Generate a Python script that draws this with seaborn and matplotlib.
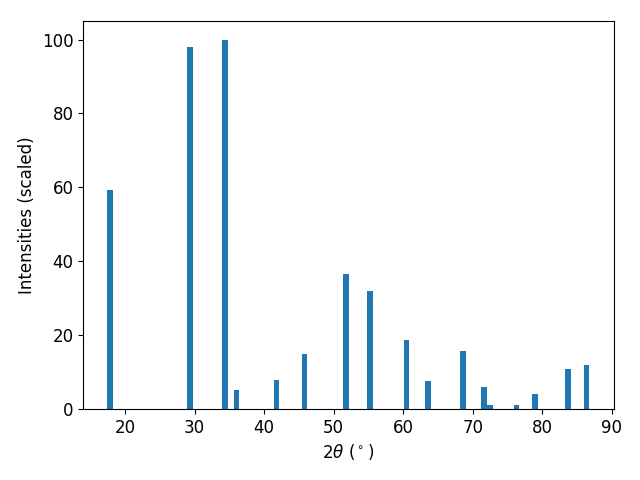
import numpy as np
import matplotlib
matplotlib.use("Agg")
import matplotlib.pyplot as plt
import seaborn as sns

# peak positions (2theta, deg) and scaled intensities
two_theta = [17.8, 29.3, 34.4, 36.0, 41.8, 45.8, 51.8, 55.2, 60.5,
             63.6, 68.6, 71.6, 72.5, 76.3, 79.0, 83.7, 86.4]
intensity = [59.3, 98.1, 100.0, 5.0, 7.9, 15.0, 36.6, 32.0, 18.7,
             7.6, 15.7, 6.0, 1.1, 1.1, 4.1, 10.8, 11.9]

plt.rcParams['font.size'] = 12

fig, ax = plt.subplots(figsize=(6.4, 4.8), dpi=100)

# native_scale scales width by the smallest gap between peaks -> want 0.8 deg
min_gap = np.diff(np.sort(two_theta)).min()
sns.barplot(x=two_theta, y=intensity, native_scale=True, width=0.8 / min_gap,
            color='#1f77b4', saturation=1, linewidth=0, ax=ax)

ax.set_xlim(13.96, 90.3)
ax.set_ylim(0, 105)
ax.set_xlabel(r'$2\theta$ ($^\circ$)')
ax.set_ylabel('Intensities (scaled)')
ax.set_xticks([20, 30, 40, 50, 60, 70, 80, 90])

fig.subplots_adjust(left=0.13, right=0.959, top=0.956, bottom=0.148)
fig.savefig('out.png', dpi=100)
